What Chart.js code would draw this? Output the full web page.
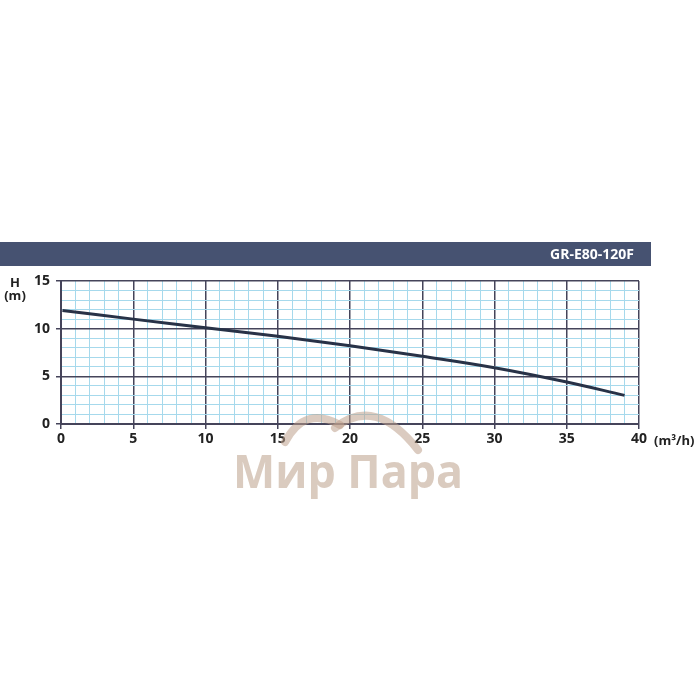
<!DOCTYPE html>
<html><head><meta charset="utf-8">
<script src="https://cdn.jsdelivr.net/npm/chart.js@4.4.0/dist/chart.umd.min.js"></script>
<style>html,body{margin:0;padding:0;background:#fff}#wrap{width:700px;height:700px;position:relative}</style>
</head><body><div id="wrap"><canvas id="c" width="700" height="700"></canvas></div>
<script>
const title = "GR-E80-120F";
const flowQ = [0.1, 5, 10, 15, 20, 25, 30, 35, 39];
const headH = [11.9, 11.0, 10.1, 9.2, 8.2, 7.1, 5.9, 4.4, 3.0];
const xTicksMajor = [0, 5, 10, 15, 20, 25, 30, 35, 40];
const yTicksMajor = [0, 5, 10, 15];
const yLabel = ["H", "(m)"];
const xUnit = "(m³/h)";
const watermark = "Мир Пара";

const DARK = '#45445a', LIGHT = '#a6d9ec';
const FONT = "'Open Sans', Lato, sans-serif";

const deco = {
  id: 'deco',
  beforeDraw(chart) {
    const ctx = chart.ctx;
    ctx.save();
    ctx.fillStyle = '#fff';
    ctx.fillRect(0, 0, 700, 700);
    ctx.fillStyle = '#465271';
    ctx.fillRect(0, 242, 651, 24);
    ctx.fillStyle = '#fff';
    ctx.font = "bold 14px " + FONT;
    ctx.textAlign = 'right';
    ctx.textBaseline = 'middle';
    ctx.fillText(title, 634, 255);
    ctx.fillStyle = '#222';
    ctx.font = "bold 13px " + FONT;
    ctx.textAlign = 'center';
    ctx.fillText(yLabel[0], 15, 283);
    ctx.fillText(yLabel[1], 15, 296);
    ctx.textAlign = 'left';
    ctx.fillText(xUnit, 654, 441);
    ctx.restore();
  },
  afterDatasetsDraw(chart) {
    const ctx = chart.ctx;
    ctx.save();
    ctx.strokeStyle = 'rgba(190,160,140,0.55)';
    ctx.lineCap = 'round';
    ctx.lineWidth = 8;
    ctx.beginPath();
    ctx.moveTo(285, 442);
    ctx.quadraticCurveTo(305, 405, 340, 425);
    ctx.stroke();
    ctx.beginPath();
    ctx.moveTo(335, 428);
    ctx.quadraticCurveTo(375, 395, 418, 450);
    ctx.stroke();
    ctx.font = "bold 46px " + FONT;
    ctx.textAlign = 'left';
    ctx.textBaseline = 'alphabetic';
    const w = ctx.measureText(watermark).width;
    ctx.translate(233, 488);
    ctx.scale(230 / w, 1);
    ctx.fillStyle = 'rgba(205,185,170,0.75)';
    ctx.fillText(watermark, 0, 0);
    ctx.restore();
  }
};

new Chart(document.getElementById('c'), {
  type: 'line',
  data: {
    datasets: [{
      data: flowQ.map((q, i) => ({x: q, y: headH[i]})),
      borderColor: '#283247',
      borderWidth: 3,
      pointRadius: 0,
      tension: 0.4,
      fill: false
    }]
  },
  options: {
    responsive: false,
    animation: false,
    events: [],
    layout: {padding: {top: 281, left: 0, right: 61, bottom: 0}},
    plugins: {legend: {display: false}, tooltip: {enabled: false}},
    scales: {
      x: {
        type: 'linear', min: 0, max: 40,
        afterFit(s) { s.height = 276; },
        border: {display: true, color: DARK, width: 2},
        grid: {
          color: c => xTicksMajor.includes(c.tick.value) ? DARK : LIGHT,
          lineWidth: c => xTicksMajor.includes(c.tick.value) ? 1.5 : 1,
          tickColor: c => xTicksMajor.includes(c.tick.value) ? DARK : 'rgba(0,0,0,0)',
          tickLength: 5, drawTicks: true
        },
        ticks: {
          stepSize: 1, autoSkip: false, maxRotation: 0, padding: 2,
          color: '#222', font: {family: FONT, weight: 'bold', size: 14},
          callback: v => xTicksMajor.includes(v) ? String(v) : ''
        }
      },
      y: {
        type: 'linear', min: 0, max: 15,
        afterFit(s) { s.width = 61; },
        border: {display: true, color: DARK, width: 2},
        grid: {
          color: c => yTicksMajor.includes(c.tick.value) ? DARK : LIGHT,
          lineWidth: c => yTicksMajor.includes(c.tick.value) ? 1.5 : 1,
          tickColor: c => yTicksMajor.includes(c.tick.value) ? DARK : 'rgba(0,0,0,0)',
          tickLength: 5
        },
        ticks: {
          stepSize: 1, autoSkip: false, padding: 6,
          color: '#222', font: {family: FONT, weight: 'bold', size: 14},
          callback: v => yTicksMajor.includes(v) ? String(v) : ''
        }
      }
    }
  },
  plugins: [deco]
});
</script></body></html>
